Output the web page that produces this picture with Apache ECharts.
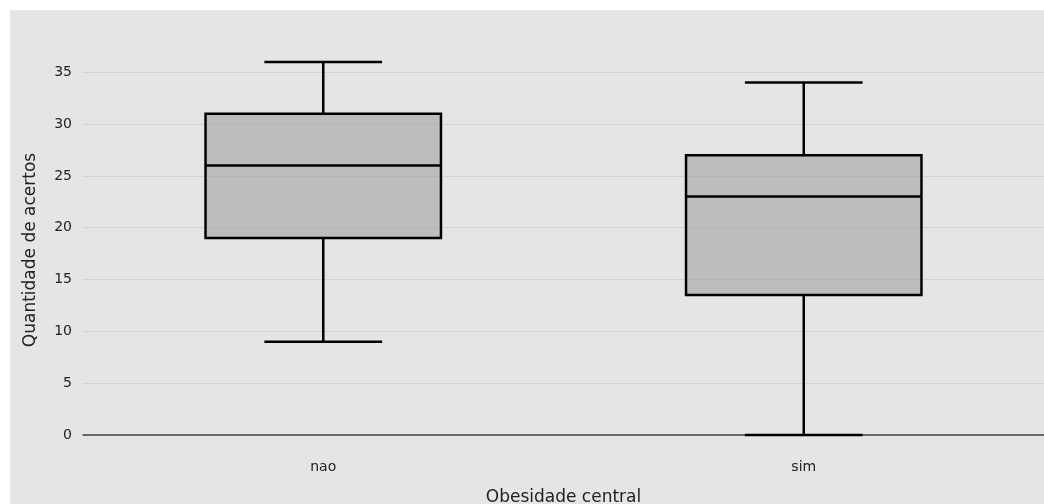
<!DOCTYPE html>
<html>
<head>
<meta charset="utf-8">
<script src="https://cdn.jsdelivr.net/npm/echarts@6/dist/echarts.min.js"></script>
<style>
  html, body { margin: 0; padding: 0; background: #fff; }
  #chart { position: absolute; left: 10px; top: 10px; width: 1034px; height: 494px; }
</style>
</head>
<body>
<div id="chart"></div>
<script>
// dados
const categories = ['nao', 'sim'];
const mins = [9, 0];
const q1s = [19, 13.5];
const medians = [26, 23];
const q3s = [31, 27];
const maxs = [36, 34];

const chart = echarts.init(document.getElementById('chart'));

const boxData = categories.map((c, i) => [i, mins[i], q1s[i], medians[i], q3s[i], maxs[i]]);

// caixa desenhada à mão: os bigodes têm metade da largura da caixa
const renderBox = (params, api) => {
  const idx = api.value(0);
  const size = api.size([1, 0]);
  const boxW = size[0] * 0.49;
  const capW = boxW / 2;
  const pMin = api.coord([idx, api.value(1)]);
  const pQ1 = api.coord([idx, api.value(2)]);
  const pMed = api.coord([idx, api.value(3)]);
  const pQ3 = api.coord([idx, api.value(4)]);
  const pMax = api.coord([idx, api.value(5)]);
  const x = pMed[0];
  const line = { stroke: '#000', lineWidth: 2.5 };
  return {
    type: 'group',
    children: [
      { type: 'line', shape: { x1: x, y1: pQ1[1], x2: x, y2: pMin[1] }, style: line },
      { type: 'line', shape: { x1: x, y1: pQ3[1], x2: x, y2: pMax[1] }, style: line },
      { type: 'line', shape: { x1: x - capW / 2, y1: pMin[1], x2: x + capW / 2, y2: pMin[1] }, style: line },
      { type: 'line', shape: { x1: x - capW / 2, y1: pMax[1], x2: x + capW / 2, y2: pMax[1] }, style: line },
      {
        type: 'rect',
        shape: { x: x - boxW / 2, y: pQ3[1], width: boxW, height: pQ1[1] - pQ3[1] },
        style: { fill: 'rgba(150,150,150,0.5)', stroke: '#000', lineWidth: 2.5 }
      },
      { type: 'line', shape: { x1: x - boxW / 2, y1: pMed[1], x2: x + boxW / 2, y2: pMed[1] }, style: line }
    ]
  };
};

const option = {
  backgroundColor: '#e5e5e5',
  animation: false,
  textStyle: { fontFamily: 'DejaVu Sans' },
  grid: { left: 73, right: 0, top: 55, bottom: 69, outerBoundsMode: 'none' },
  xAxis: {
    type: 'category',
    data: categories,
    name: 'Obesidade central',
    nameLocation: 'middle',
    nameGap: 54,
    nameTextStyle: { fontSize: 17, color: '#222' },
    axisLine: { lineStyle: { color: '#444', width: 1.5 } },
    axisTick: { show: false },
    axisLabel: { fontSize: 14, color: '#222', margin: 25 },
    splitLine: { show: false }
  },
  yAxis: {
    type: 'value',
    min: 0,
    max: 35.7,
    interval: 5,
    name: 'Quantidade de acertos',
    nameLocation: 'middle',
    nameGap: 44,
    nameTextStyle: { fontSize: 17, color: '#222' },
    axisLine: { show: false },
    axisTick: { show: false },
    axisLabel: { fontSize: 14, color: '#222', margin: 11, showMaxLabel: false },
    splitLine: { showMaxLine: false, lineStyle: { color: '#d3d3d3', width: 1 } }
  },
  series: [
    {
      type: 'custom',
      renderItem: renderBox,
      encode: { x: 0, y: [1, 2, 3, 4, 5] },
      data: boxData
    }
  ]
};

chart.setOption(option);
</script>
</body>
</html>
